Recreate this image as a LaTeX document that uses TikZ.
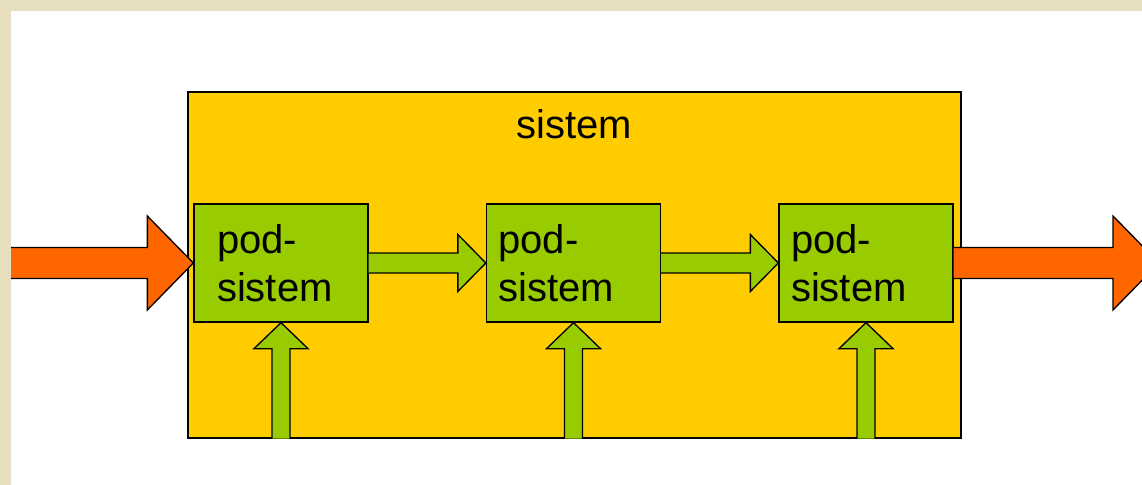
\documentclass[tikz,border=0pt]{standalone}
\usepackage{fontspec}
\setmainfont{Liberation Sans}
\usetikzlibrary{calc}
\definecolor{sysyellow}{HTML}{FFCC00}
\definecolor{subgreen}{HTML}{99CC00}
\definecolor{flowred}{HTML}{FF6600}
\definecolor{paper}{HTML}{E6DEBD}
\tikzset{
  sysbox/.style={draw=black,fill=sysyellow,line width=1pt,minimum width=579.75pt,minimum height=259.5pt},
  subbox/.style={draw=black,fill=subgreen,line width=1pt,minimum height=88.5pt,text width=96pt,inner xsep=17.25pt,inner ysep=0pt,align=left,font=\fontsize{30}{36}\selectfont},
  subboxleft/.style={subbox,text width=112.5pt,inner xsep=9pt},
  redarrow/.style={draw=black,fill=flowred,line width=1pt},
  greenarrow/.style={draw=black,fill=subgreen,line width=1pt},
}
\begin{document}
\begin{tikzpicture}[x=0.75pt,y=-0.75pt]
\clip (0,0) rectangle (1142,485);
\fill[paper] (0,0) rectangle (1142,485); %background
\fill[white] (11,11) rectangle (1142,485);

\node[sysbox] (sys) at (574.5,265) {};
\node[font=\fontsize{30}{36}\selectfont] (title) at (574.5,124) {sistem};
\node[subbox] (p1) at (281,263) {pod-\\sistem};
\node[subboxleft] (p2) at (573.5,263) {pod-\\sistem};
\node[subboxleft] (p3) at (866,263) {pod-\\sistem};
\coordinate (in) at (11,263);
\coordinate (out) at (1159,263);
\coordinate (b1) at (p1.south |- sys.south);
\coordinate (b2) at (p2.south |- sys.south);
\coordinate (b3) at (p3.south |- sys.south);

% input and output
\draw[redarrow] ($(in)+(0,-15.5)$) -- ($(p1.west)+(-46,-15.5)$) -- ($(p1.west)+(-46,-47)$) -- (p1.west) -- ($(p1.west)+(-46,47)$) -- ($(p1.west)+(-46,15.5)$) -- ($(in)+(0,15.5)$);
\draw[redarrow] ($(p3.east)+(0,-15.5)$) -- ($(out)+(-46,-15.5)$) -- ($(out)+(-46,-47)$) -- (out) -- ($(out)+(-46,47)$) -- ($(out)+(-46,15.5)$) -- ($(p3.east)+(0,15.5)$);

% between the subsystems
\draw[greenarrow] ($(p1.east)+(0,-10)$) -- ($(p2.west)+(-28,-10)$) -- ($(p2.west)+(-28,-28.5)$) -- (p2.west) -- ($(p2.west)+(-28,28.5)$) -- ($(p2.west)+(-28,10)$) -- ($(p1.east)+(0,10)$);
\draw[greenarrow] ($(p2.east)+(0,-10)$) -- ($(p3.west)+(-28,-10)$) -- ($(p3.west)+(-28,-28.5)$) -- (p3.west) -- ($(p3.west)+(-28,28.5)$) -- ($(p3.west)+(-28,10)$) -- ($(p2.east)+(0,10)$);

% from below
\draw[greenarrow] ($(b1)+(-9,0)$) -- ($(p1.south)+(-9,26)$) -- ($(p1.south)+(-27,26)$) -- (p1.south) -- ($(p1.south)+(27,26)$) -- ($(p1.south)+(9,26)$) -- ($(b1)+(9,0)$);
\draw[greenarrow] ($(b2)+(-9,0)$) -- ($(p2.south)+(-9,26)$) -- ($(p2.south)+(-27,26)$) -- (p2.south) -- ($(p2.south)+(27,26)$) -- ($(p2.south)+(9,26)$) -- ($(b2)+(9,0)$);
\draw[greenarrow] ($(b3)+(-9,0)$) -- ($(p3.south)+(-9,26)$) -- ($(p3.south)+(-27,26)$) -- (p3.south) -- ($(p3.south)+(27,26)$) -- ($(p3.south)+(9,26)$) -- ($(b3)+(9,0)$);
\end{tikzpicture}
\end{document}
